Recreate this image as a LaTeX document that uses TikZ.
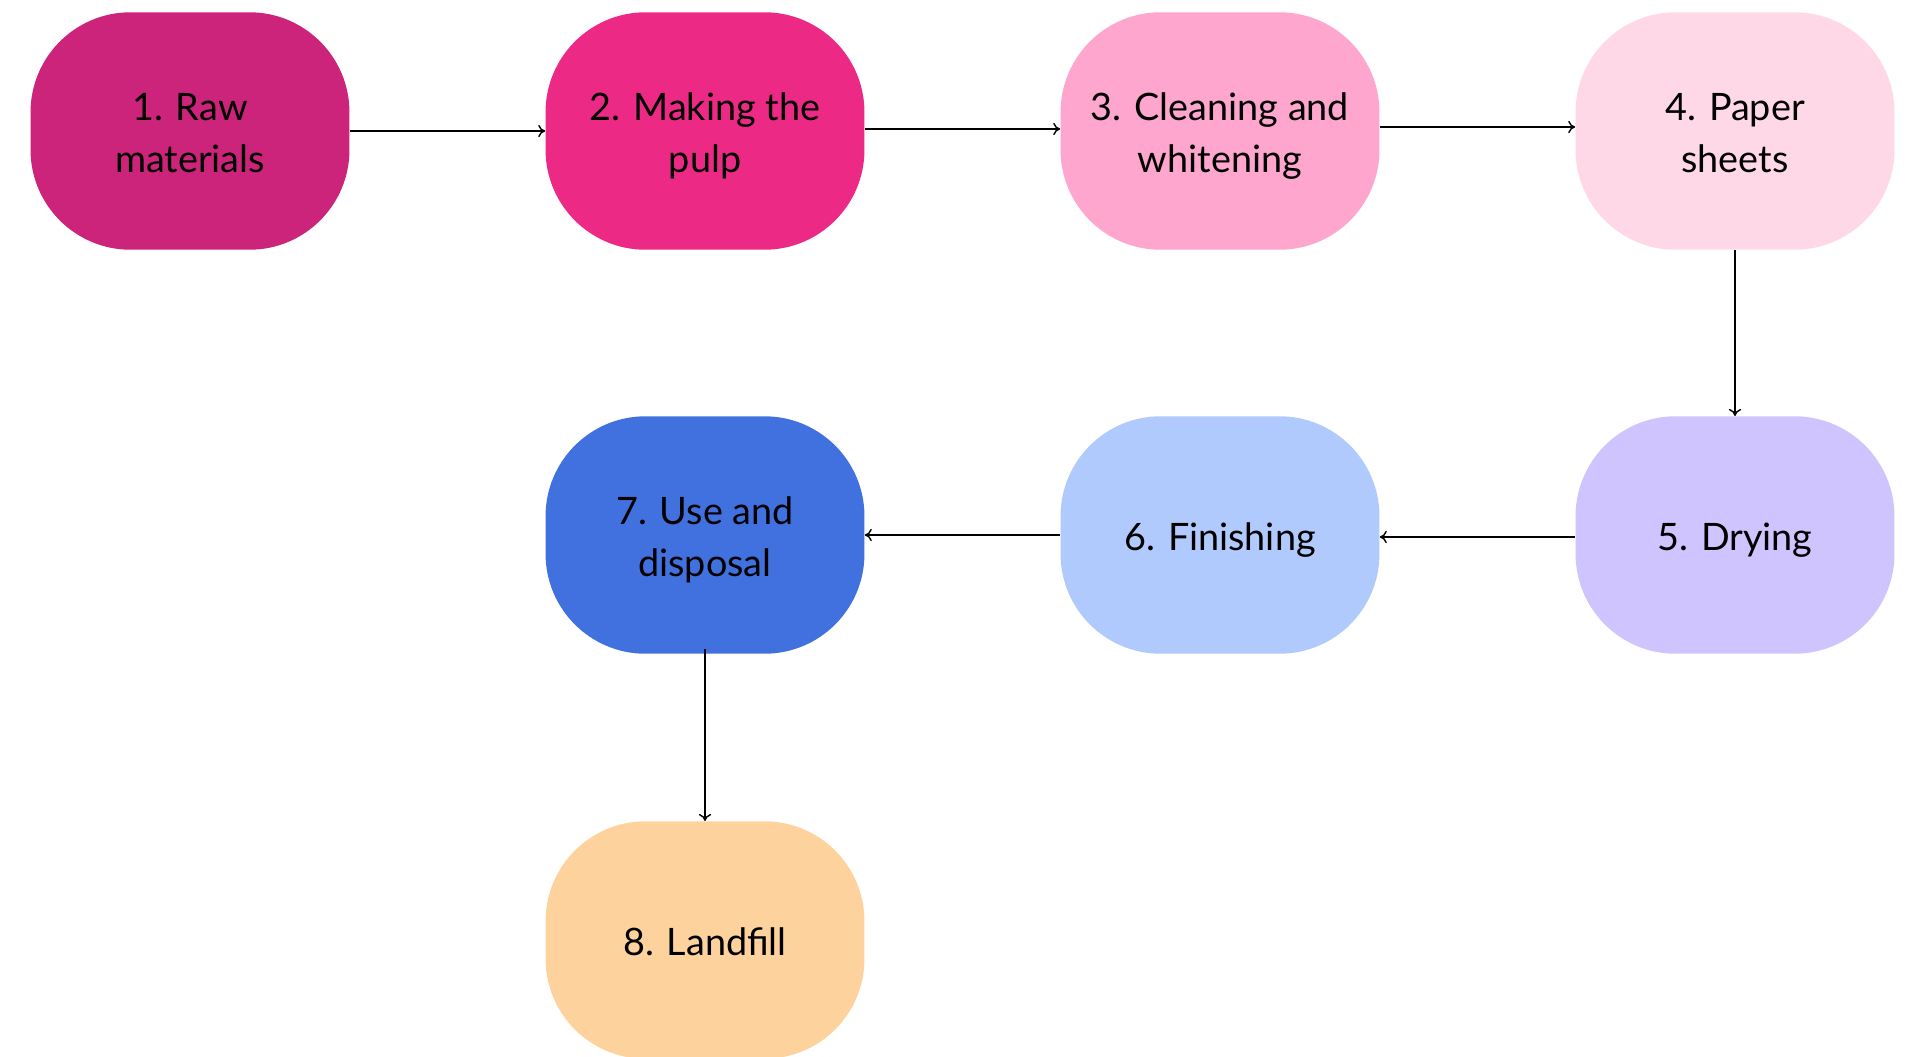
\documentclass[tikz,border=0pt]{standalone}
\usepackage{fontspec}
\setmainfont{Lato}
\usetikzlibrary{arrows.meta}

\definecolor{rawpink}{HTML}{CB247A}
\definecolor{pulppink}{HTML}{EC2A86}
\definecolor{cleanpink}{HTML}{FFA6CF}
\definecolor{sheetpink}{HTML}{FFD8E8}
\definecolor{drylilac}{HTML}{CFC4FE}
\definecolor{finishblue}{HTML}{B1CAFD}
\definecolor{useblue}{HTML}{4170DF}
\definecolor{landorange}{HTML}{FED29D}
% same height and depth for every line of text
\newcommand{\stagestrut}{\rule[-6pt]{0pt}{29.5pt}}

\begin{document}
\begin{tikzpicture}[x=0.02cm, y=-0.02cm,
		stage/.style={rounded corners=2cm, minimum width=6.38cm, minimum height=4.75cm,
			inner sep=0pt, align=center, text=black, font=\fontsize{21.5}{29.6}\selectfont},
		flow/.style={line width=0.8pt, -{To[length=4pt, width=7pt]}}]
			%%%%% START %%%%%
			
			\useasboundingbox (0, 0) rectangle (1910, 1056);
			
			% top row
			\node[stage, fill=rawpink] (raw) at (190, 131) {\stagestrut 1. Raw\\\stagestrut materials};
			\node[stage, fill=pulppink] (pulp) at (705, 131) {\stagestrut 2. Making the\\\stagestrut pulp};
			\node[stage, fill=cleanpink] (clean) at (1220, 131) {\stagestrut 3. Cleaning and\\\stagestrut whitening};
			\node[stage, fill=sheetpink] (sheets) at (1735, 131) {\stagestrut 4. Paper\\\stagestrut sheets};
			
			% middle row
			\node[stage, fill=drylilac] (drying) at (1735, 535) {\stagestrut 5. Drying};
			\node[stage, fill=finishblue] (finish) at (1220, 535) {\stagestrut 6. Finishing};
			\node[stage, fill=useblue] (use) at (705, 535) {\stagestrut 7. Use and\\\stagestrut disposal};
			
			% bottom row
			\node[stage, fill=landorange] (landfill) at (705, 940) {\stagestrut 8. Landfill};
			
			\draw[flow] (raw.east) -- (pulp.west);
			\draw[flow] ([yshift=0.04cm]pulp.east) -- ([yshift=0.04cm]clean.west);
			\draw[flow] ([yshift=0.08cm]clean.east) -- ([yshift=0.08cm]sheets.west);
			\draw[flow] (sheets.south) -- (drying.north);
			\draw[flow] ([yshift=-0.04cm]drying.west) -- ([yshift=-0.04cm]finish.east);
			\draw[flow] (finish.west) -- (use.east);
			\draw[flow] ([yshift=0.1cm]use.south) -- (landfill.north);
			
			%%%%% END %%%%%
		\end{tikzpicture}
\end{document}
